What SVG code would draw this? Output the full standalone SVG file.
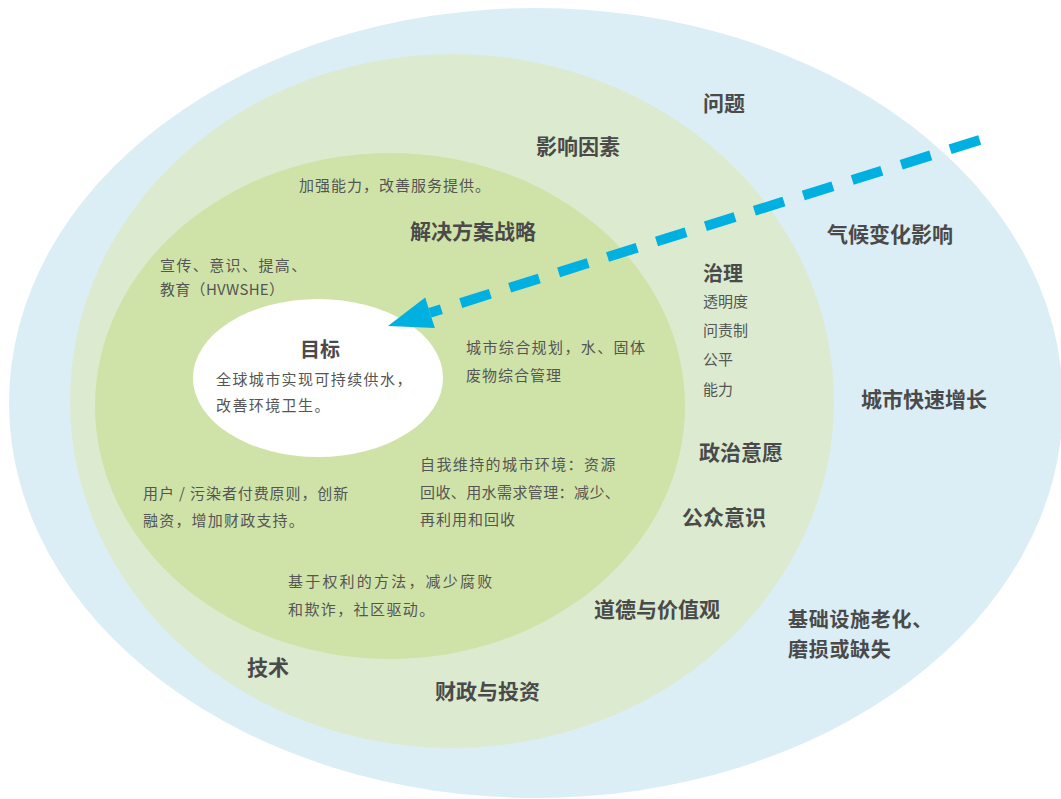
<svg xmlns="http://www.w3.org/2000/svg" width="1061" height="799" viewBox="0 0 1061 799">
<style>
text{font-family:"Noto Sans CJK SC","Noto Sans",sans-serif;}
.h{font-size:21px;font-weight:bold;fill:#4a4a4a;}
.b{font-size:15px;fill:#555555;}
.ls{letter-spacing:1.4px;}
.l1{letter-spacing:1px;}
.h20{font-size:20px;letter-spacing:0.7px;}
</style>
<rect width="1061" height="799" fill="#ffffff"/>
<g id="ring-issues">
<ellipse cx="536" cy="403" rx="527" ry="395" fill="#dbeef6"/>
<text class="h" x="703" y="111">问题</text>
<text class="h" x="827" y="242">气候变化影响</text>
<text class="h" x="861" y="407">城市快速增长</text>
<text class="h h20" x="788" y="627">基础设施老化、</text>
<text class="h h20" x="788" y="657">磨损或缺失</text>
</g>
<g id="ring-factors">
<ellipse cx="452" cy="401" rx="382" ry="347" fill="#dcebcf"/>
<text class="h" x="536" y="154">影响因素</text>
<text class="h" x="703" y="281" style="font-size:20px">治理</text>
<text class="b" x="703" y="306.5">透明度</text>
<text class="b" x="703" y="335.5">问责制</text>
<text class="b" x="703" y="364.5">公平</text>
<text class="b" x="703" y="394.5">能力</text>
<text class="h" x="699" y="460">政治意愿</text>
<text class="h" x="682" y="525">公众意识</text>
<text class="h" x="594" y="617">道德与价值观</text>
<text class="h" x="247" y="675">技术</text>
<text class="h" x="435" y="699">财政与投资</text>
</g>
<g id="ring-strategies">
<ellipse cx="390" cy="406" rx="295" ry="253" fill="#cfe3a8"/>
<text class="b l1" x="299" y="190.5">加强能力，改善服务提供。</text>
<text class="h" x="410" y="239">解决方案战略</text>
<text class="b ls" x="160" y="270.5">宣传、意识、提高、</text>
<text class="b" x="160" y="294.5" style="letter-spacing:0.3px">教育（HVWSHE）</text>
<text class="b ls" x="466" y="352.5">城市综合规划，水、固体</text>
<text class="b l1" x="466" y="380.5">废物综合管理</text>
<text class="b ls" x="420" y="469.5">自我维持的城市环境：资源</text>
<text class="b" x="420" y="497.5" style="letter-spacing:0.4px">回收、用水需求管理：减少、</text>
<text class="b l1" x="420" y="524.5">再利用和回收</text>
<text class="b" x="143" y="498.5" style="letter-spacing:0.9px">用户 / 污染者付费原则，创新</text>
<text class="b" x="143" y="525.5" style="letter-spacing:1.2px">融资，增加财政支持。</text>
<text class="b" x="288" y="586.5" style="letter-spacing:2.2px">基于权利的方法，减少腐败</text>
<text class="b ls" x="288" y="614.5">和欺诈，社区驱动。</text>
</g>
<g id="goal">
<ellipse cx="318" cy="378" rx="125" ry="79" fill="#ffffff"/>
<text class="h" x="300" y="357" style="font-size:20px">目标</text>
<text class="b ls" x="216" y="384.5">全球城市实现可持续供水，</text>
<text class="b ls" x="216" y="410.5">改善环境卫生。</text>
</g>
<g id="connectors">
<line x1="979.7" y1="140" x2="430" y2="312.8" stroke="#00b0e0" stroke-width="10" stroke-dasharray="31 20.3"/>
<polygon points="388,326 425.2,297.5 434.8,328" fill="#00b0e0"/>
</g>
</svg>
